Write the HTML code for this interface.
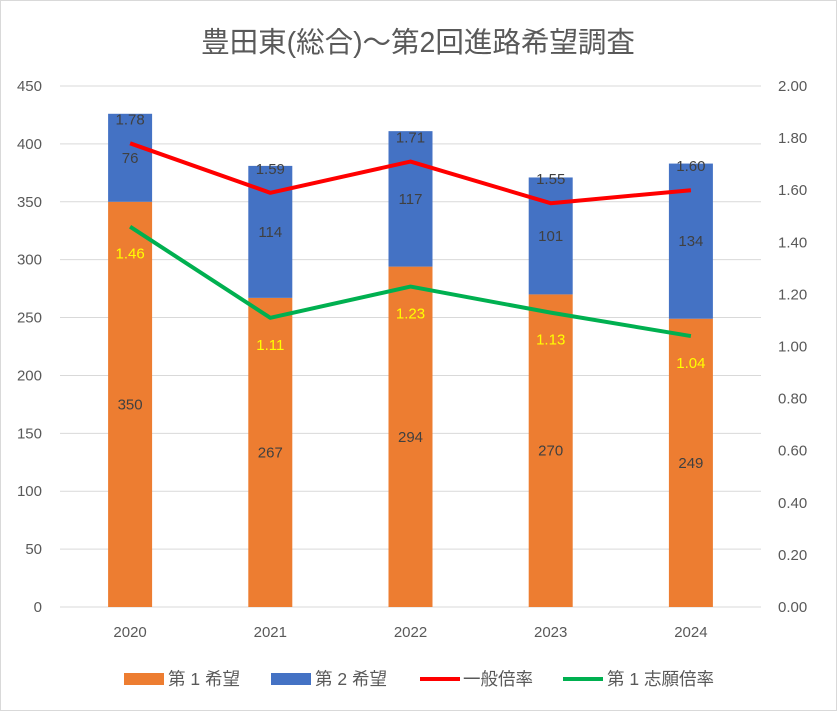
<!DOCTYPE html>
<html><head><meta charset="utf-8"><style>
body{margin:0;background:#fff;}
svg{display:block;font-family:"Liberation Sans","Noto Sans CJK JP",sans-serif;}
</style></head><body>
<svg id="chart" width="837" height="711">
<rect x="0.5" y="0.5" width="836" height="710" fill="#fff" stroke="#d9d9d9"/>
<text x="418" y="52" text-anchor="middle" font-size="28.5" fill="#595959">豊田東(総合)～第2回進路希望調査</text>
<g id="grid"></g><g id="bars"></g><g id="lines"></g><g id="labels"></g>
<g id="legend" font-size="17.5" fill="#595959">
<rect x="124" y="673" width="40" height="12" fill="#ED7D31"/>
<text x="168" y="685">第 1 希望</text>
<rect x="271" y="673" width="40" height="12" fill="#4472C4"/>
<text x="315" y="685">第 2 希望</text>
<line x1="420" y1="679" x2="460" y2="679" stroke="#FF0000" stroke-width="4"/>
<text x="463" y="685">一般倍率</text>
<line x1="563" y1="679" x2="603" y2="679" stroke="#00B050" stroke-width="4"/>
<text x="607" y="685">第 1 志願倍率</text>
</g>
</svg>
<script>
const categories=["2020","2021","2022","2023","2024"];
const firstChoice=[350,267,294,270,249];
const secondChoice=[76,114,117,101,134];
const generalRate=[1.78,1.59,1.71,1.55,1.60];
const firstRate=[1.46,1.11,1.23,1.13,1.04];
const leftTicks=[0,50,100,150,200,250,300,350,400,450];
const rightTicks=["0.00","0.20","0.40","0.60","0.80","1.00","1.20","1.40","1.60","1.80","2.00"];
const NS="http://www.w3.org/2000/svg";
const L=60,R=761,T=86,B=607;
const yL=v=>B-v/450*(B-T);
const yR=v=>B-v/2*(B-T);
const step=(R-L)/categories.length;
const xC=i=>L+step*(i+0.5);
function mk(tag,attrs,parent,text){const e=document.createElementNS(NS,tag);for(const k in attrs)e.setAttribute(k,attrs[k]);if(text!==undefined)e.textContent=text;document.getElementById(parent).appendChild(e);return e;}
leftTicks.forEach(t=>{
 const g=mk("line",{x1:L,x2:R,y1:yL(t),y2:yL(t),stroke:"#d9d9d9","stroke-width":1},"grid");
 
 
 const tx=mk("text",{x:42,y:yL(t)+5,"text-anchor":"end","font-size":15,fill:"#595959"},"grid",String(t));
 
 
});
rightTicks.forEach(t=>{
 const tx=mk("text",{x:778,y:yR(+t)+5,"font-size":15,fill:"#595959"},"grid",t);
 
 
});
categories.forEach((c,i)=>{
 const tx=mk("text",{x:xC(i),y:637,"text-anchor":"middle","font-size":15,fill:"#595959"},"grid",c);
 
 
 const bw=44;
 const b1=mk("rect",{x:xC(i)-bw/2,y:yL(firstChoice[i]),width:bw,height:B-yL(firstChoice[i]),fill:"#ED7D31"},"bars");
 
 
 const top=firstChoice[i]+secondChoice[i];
 const b2=mk("rect",{x:xC(i)-bw/2,y:yL(top),width:bw,height:yL(firstChoice[i])-yL(top),fill:"#4472C4"},"bars");
 
 
 const l1=mk("text",{x:xC(i),y:(yL(firstChoice[i])+B)/2+5,"text-anchor":"middle","font-size":15,fill:"#404040"},"labels",String(firstChoice[i]));
 
 
 const l2=mk("text",{x:xC(i),y:(yL(firstChoice[i])+yL(top))/2+5,"text-anchor":"middle","font-size":15,fill:"#404040"},"labels",String(secondChoice[i]));
 
 
 const l3=mk("text",{x:xC(i),y:yR(generalRate[i])-19,"text-anchor":"middle","font-size":15,fill:"#404040"},"labels",generalRate[i].toFixed(2));
 
 
 const l4=mk("text",{x:xC(i),y:yR(firstRate[i])+32,"text-anchor":"middle","font-size":15,fill:"#FFFF00"},"labels",firstRate[i].toFixed(2));
 
 
});
const p1=mk("polyline",{points:generalRate.map((v,i)=>xC(i)+","+yR(v)).join(" "),fill:"none",stroke:"#FF0000","stroke-width":4,"stroke-linejoin":"round"},"lines");


const p2=mk("polyline",{points:firstRate.map((v,i)=>xC(i)+","+yR(v)).join(" "),fill:"none",stroke:"#00B050","stroke-width":4,"stroke-linejoin":"round"},"lines");


</script>
</body></html>
